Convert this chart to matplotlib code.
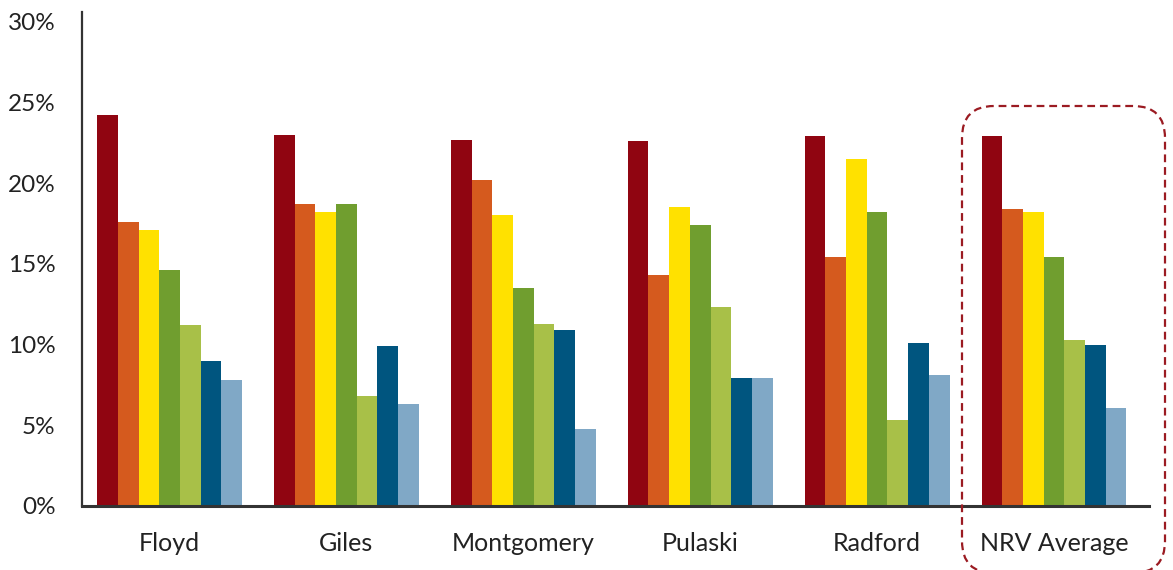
import matplotlib
matplotlib.use("Agg")
import matplotlib.pyplot as plt
from matplotlib.patches import FancyBboxPatch
import numpy as np

categories = ["Floyd", "Giles", "Montgomery", "Pulaski", "Radford", "NRV Average"]
# seven series per locality (percent)
s1 = [24.2, 23.0, 22.7, 22.6, 22.9, 22.9]
s2 = [17.6, 18.7, 20.2, 14.3, 15.4, 18.4]
s3 = [17.1, 18.2, 18.0, 18.5, 21.5, 18.2]
s4 = [14.6, 18.7, 13.5, 17.4, 18.2, 15.4]
s5 = [11.2, 6.8, 11.3, 12.3, 5.3, 10.3]
s6 = [9.0, 9.9, 10.9, 7.9, 10.1, 10.0]
s7 = [7.8, 6.3, 4.8, 7.9, 8.1, 6.1]
series = [s1, s2, s3, s4, s5, s6, s7]
colors = ["#900511", "#D55A1E", "#FFE100", "#709E2F", "#A8C048", "#00557F", "#80A8C6"]
yticks = [0, 5, 10, 15, 20, 25, 30]

font = ["Lato", "DejaVu Sans"]
plt.rcParams['font.family'] = font

fig = plt.figure(figsize=(11.73, 5.70), dpi=100)
ax = fig.add_axes([82 / 1173, 64 / 570, 1067 / 1173, 494 / 570])

x = np.arange(len(categories))
width = 0.117
n = len(series)
for i, (vals, c) in enumerate(zip(series, colors)):
    offs = (i - (n - 1) / 2) * width
    ax.bar(x + offs, vals, width, color=c, linewidth=0)

ax.set_xlim(-0.495, 5.537)
ax.set_ylim(0, 30.6)
ax.set_yticks(yticks)
ax.set_yticklabels([f"{t}%" for t in yticks])
ax.set_xticks(x)
ax.set_xticklabels(categories)
ax.tick_params(axis='both', length=0, colors='#222222')
ax.tick_params(axis='y', pad=19, labelsize=17.5)
ax.tick_params(axis='x', pad=19, labelsize=18)

for s in ['top', 'right']:
    ax.spines[s].set_visible(False)
ax.spines['left'].set_color('#333333')
ax.spines['left'].set_linewidth(1.6)
ax.spines['bottom'].set_color('#333333')
ax.spines['bottom'].set_linewidth(2.2)

# dashed highlight around the NRV Average group
box = FancyBboxPatch((9.62, -0.03), 2.03, 4.67,
                     boxstyle="round,pad=0,rounding_size=0.32",
                     transform=fig.dpi_scale_trans, fill=False,
                     edgecolor='#9B1B22', linewidth=1.6,
                     linestyle=(0, (3.5, 2.2)), clip_on=False)
fig.patches.append(box)

fig.savefig("out.png", dpi=100)
